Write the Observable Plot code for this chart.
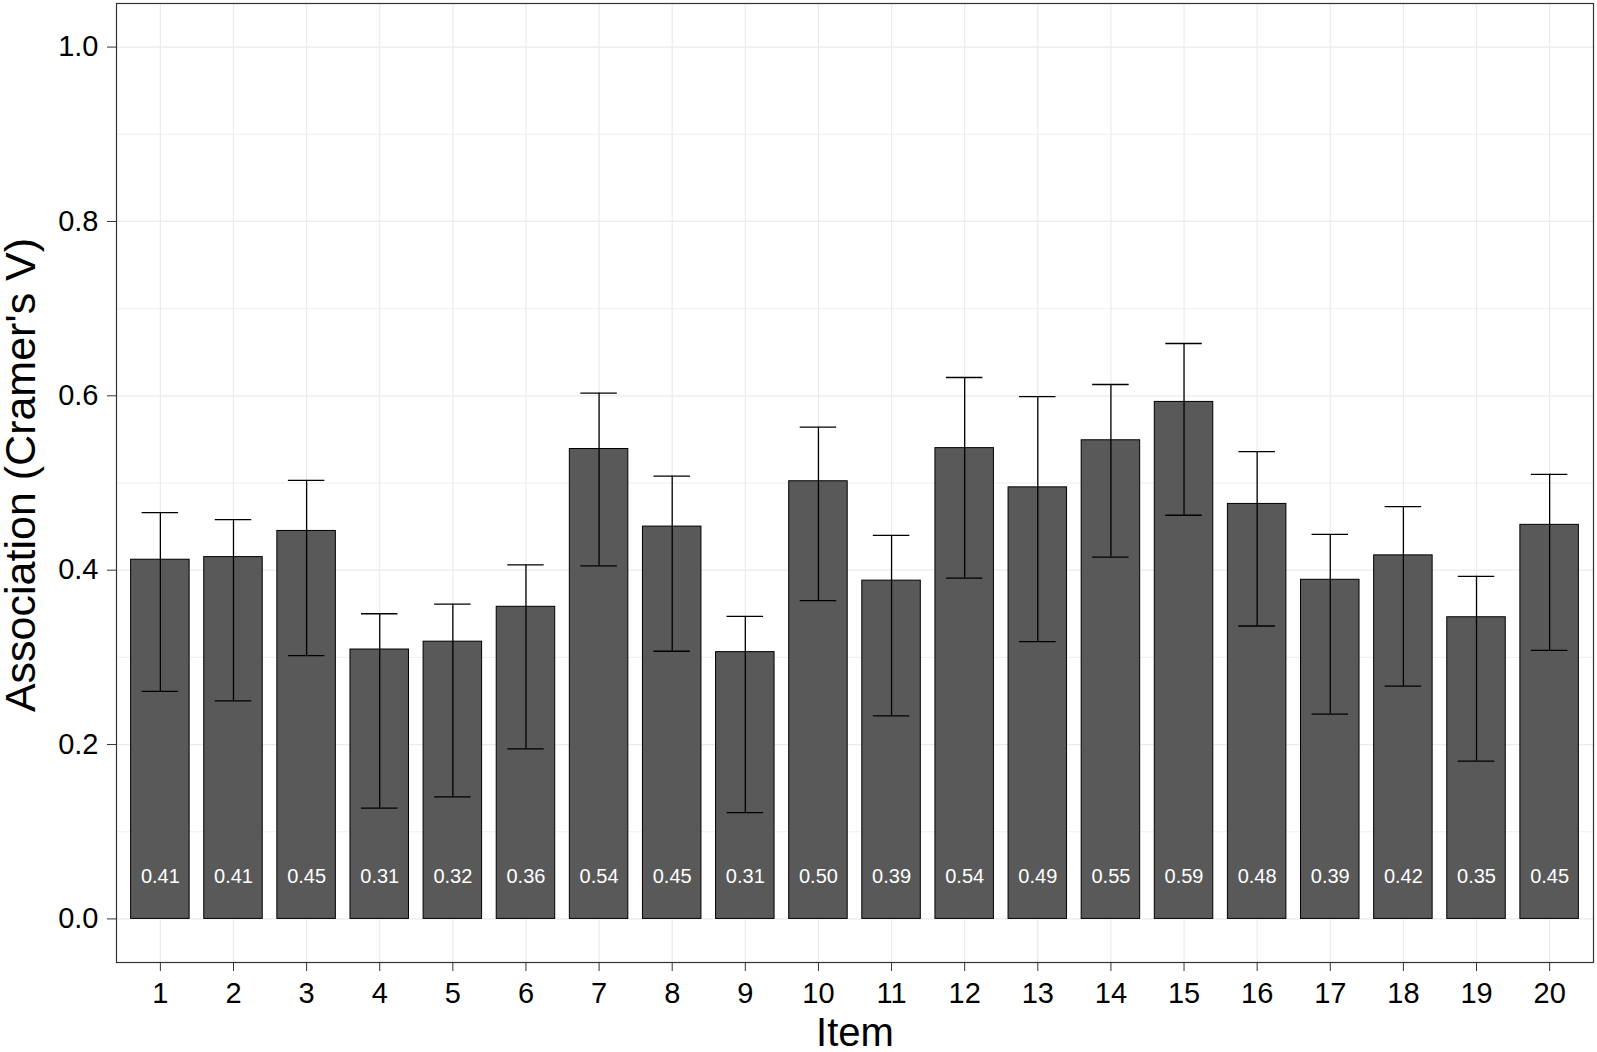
<!DOCTYPE html>
<html>
<head>
<meta charset="utf-8">
<script src="https://cdn.jsdelivr.net/npm/d3@7"></script>
<script src="https://cdn.jsdelivr.net/npm/@observablehq/plot@0.6"></script>
<style>
  html, body { margin: 0; padding: 0; background: #fff; overflow: hidden; }
  svg { display: block; }
</style>
</head>
<body>
<div id="chart"></div>
<script>
const items = ["1","2","3","4","5","6","7","8","9","10","11","12","13","14","15","16","17","18","19","20"];
const values = [0.412, 0.415, 0.445, 0.309, 0.318, 0.358, 0.539, 0.450, 0.306, 0.502, 0.388, 0.540, 0.495, 0.549, 0.593, 0.476, 0.389, 0.417, 0.346, 0.452];
const upper  = [0.466, 0.458, 0.503, 0.350, 0.361, 0.406, 0.603, 0.508, 0.347, 0.564, 0.440, 0.621, 0.599, 0.613, 0.660, 0.536, 0.441, 0.473, 0.393, 0.510];
const lower  = [0.261, 0.250, 0.302, 0.127, 0.140, 0.195, 0.405, 0.307, 0.122, 0.365, 0.233, 0.391, 0.318, 0.415, 0.463, 0.336, 0.235, 0.267, 0.181, 0.308];
const yTicks = [0, 0.2, 0.4, 0.6, 0.8, 1.0];
const yMinor = [0.1, 0.3, 0.5, 0.7, 0.9];
const xTitle = "Item";
const yTitle = "Association (Cramer's V)";

const data = items.map((item, i) => ({item, value: values[i], lo: lower[i], hi: upper[i]}));
const fmt = d3.format(".2f");
const font = "'Liberation Sans', Arial, Helvetica, sans-serif";

const chart = Plot.plot({
  width: 1597,
  height: 1052,
  marginTop: 3,
  marginRight: 4,
  marginBottom: 90,
  marginLeft: 116,
  style: {fontFamily: font, background: "#fff", color: "#000"},
  x: {type: "band", domain: items, paddingInner: 0.2, paddingOuter: 0.2, round: false},
  y: {domain: [-0.05, 1.05]},
  marks: [
    Plot.gridY(yMinor, {stroke: "#ebebeb", strokeOpacity: 1, strokeWidth: 0.8}),
    Plot.gridY(yTicks, {stroke: "#ebebeb", strokeOpacity: 1, strokeWidth: 1.2}),
    Plot.gridX(items, {stroke: "#ebebeb", strokeOpacity: 1, strokeWidth: 1.2}),
    Plot.barY(data, {x: "item", y: "value", fill: "#595959", stroke: "#000", strokeWidth: 1}),
    Plot.ruleX(data, {x: "item", y1: "lo", y2: "hi", stroke: "#000", strokeWidth: 1.3}),
    Plot.tickY(data, {x: "item", y: "hi", stroke: "#000", strokeWidth: 1.3, insetLeft: 11, insetRight: 11}),
    Plot.tickY(data, {x: "item", y: "lo", stroke: "#000", strokeWidth: 1.3, insetLeft: 11, insetRight: 11}),
    Plot.text(data, {x: "item", y: () => 0, dy: -42, text: d => fmt(d.value), fill: "#fff", fontSize: 20}),
    Plot.axisY(yTicks, {tickFormat: d3.format(".1f"), tickSize: 9, tickPadding: 9, fontSize: 29, label: null, stroke: "#333", color: "#000"}),
    Plot.axisX(items, {tickSize: 9, tickPadding: 11, fontSize: 29, label: null, stroke: "#333", color: "#000"}),
    Plot.frame({stroke: "#333", strokeWidth: 1.2}),
    Plot.text([xTitle], {frameAnchor: "bottom", lineAnchor: "middle", textAnchor: "middle", dy: 71, fontSize: 40, fill: "#000"}),
    Plot.text([yTitle], {frameAnchor: "left", lineAnchor: "middle", textAnchor: "middle", dx: -95, dy: -8, rotate: -90, fontSize: 43, fill: "#000"})
  ]
});
document.getElementById("chart").appendChild(chart);
</script>
</body>
</html>
